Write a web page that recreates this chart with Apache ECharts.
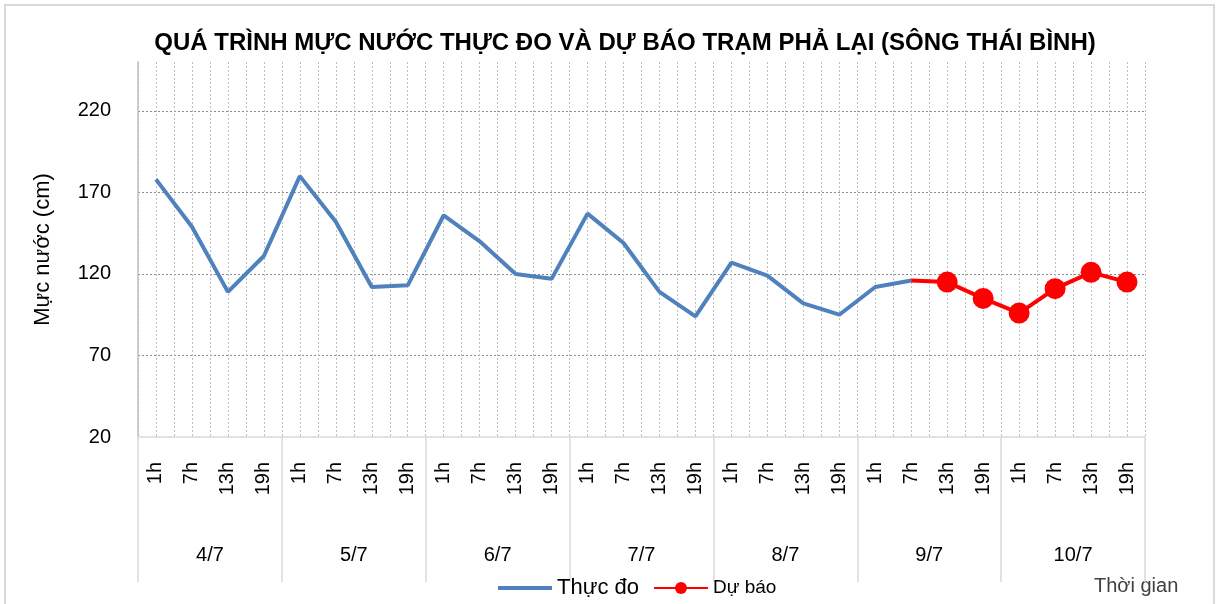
<!DOCTYPE html>
<html>
<head>
<meta charset="utf-8">
<script src="https://cdn.jsdelivr.net/npm/echarts@6/dist/echarts.min.js"></script>
<style>html,body{margin:0;padding:0;background:#fff;}#c{width:1218px;height:604px;}</style>
</head>
<body>
<div id="c"></div>
<script>
var days = ['4/7','5/7','6/7','7/7','8/7','9/7','10/7'];
var hours = ['1h','7h','13h','19h'];
var observed = [178,149,109,131, 180,152,112,113, 156,140,120,117, 157,139,109,94, 127,119,102,95, 112,116];
var forecastStartIndex = 21;
var forecast = [116,115,105,96,111,121,115];
var yTicks = [20,70,120,170,220];

var categories = [];
days.forEach(function(d){ hours.forEach(function(h){ categories.push(h); }); });
var halfCats = [];
for (var i = 0; i < categories.length * 2; i++) halfCats.push(String(i));

var obsData = categories.map(function(_, i){ return i < observed.length ? observed[i] : null; });
var fcData = categories.map(function(_, i){
  var k = i - forecastStartIndex;
  if (k < 0 || k >= forecast.length) return null;
  if (k === 0) return {value: forecast[k], symbol: 'none'};
  return forecast[k];
});

var FONT = 'Liberation Sans';
var chart = echarts.init(document.getElementById('c'), null, {renderer: 'canvas'});
chart.setOption({
  backgroundColor: '#fff',
  animation: false,
  textStyle: {fontFamily: FONT},
  title: {
    text: 'QUÁ TRÌNH MỰC NƯỚC THỰC ĐO VÀ DỰ BÁO TRẠM PHẢ LẠI (SÔNG THÁI BÌNH)',
    left: 620, top: 26, textAlign: 'center',
    textStyle: {fontFamily: FONT, fontWeight: 'bold', fontSize: 24, color: '#000'}
  },
  grid: {left: 138, right: 73, top: 62, bottom: 167, containLabel: false},
  legend: {
    left: 493, top: 572,
    itemWidth: 54, itemHeight: 15, itemGap: 14,
    textStyle: {fontFamily: FONT, fontSize: 19, color: '#000'},
    data: [
      {name: 'Thực đo', icon: 'path://M0,0 L54,0 L54,4 L0,4 Z', textStyle: {fontSize: 22}},
      {name: 'Dự báo', textStyle: {fontSize: 19}}
    ]
  },
  graphic: [
    {type: 'rect', shape: {x: 5, y: 5, width: 1209, height: 610}, style: {fill: null, stroke: '#d9d9d9', lineWidth: 2}, silent: true},
    {type: 'text', left: 1094, top: 576, style: {text: 'Thời gian', font: '20px "Liberation Sans"', fill: '#404040'}}
  ],
  xAxis: [
    {
      type: 'category', data: categories, boundaryGap: true, position: 'bottom',
      axisLine: {show: true, lineStyle: {color: '#d9d9d9', width: 1.5}},
      axisTick: {show: false},
      axisLabel: {interval: 0, rotate: 90, margin: 25, fontSize: 20, color: '#000', fontFamily: FONT},
      splitLine: {show: false}
    },
    {
      type: 'category', data: days, boundaryGap: true, position: 'bottom', offset: 0,
      axisLine: {show: false},
      axisTick: {show: true, interval: 0, length: 145, lineStyle: {color: '#d9d9d9', width: 1.5}},
      axisLabel: {interval: 0, margin: 108, fontSize: 20, color: '#000', fontFamily: FONT},
      splitLine: {show: false}
    },
    {
      type: 'category', data: halfCats, boundaryGap: true, position: 'top',
      axisLine: {show: false}, axisTick: {show: false}, axisLabel: {show: false},
      splitLine: {show: true, interval: 0, lineStyle: {color: '#bfbfbf', type: [2, 2], width: 1}}
    }
  ],
  yAxis: {
    type: 'value', min: 20, max: 250, interval: 50,
    name: 'Mực nước (cm)', nameLocation: 'middle', nameRotate: 90, nameGap: 84,
    nameTextStyle: {fontFamily: FONT, fontSize: 22, color: '#000'},
    axisLine: {show: true, lineStyle: {color: '#bfbfbf', width: 1.5}},
    axisTick: {show: false},
    axisLabel: {
      margin: 27, fontSize: 20, color: '#000', fontFamily: FONT, showMaxLabel: false,
      formatter: function(v){ return yTicks.indexOf(v) >= 0 ? String(v) : ''; }
    },
    splitLine: {show: true, showMinLine: false, showMaxLine: false, lineStyle: {color: '#8c8c8c', type: [2, 2], width: 1}}
  },
  series: [
    {
      name: 'Thực đo', type: 'line', xAxisIndex: 0, data: obsData,
      symbol: 'none', connectNulls: false,
      lineStyle: {color: '#4F81BD', width: 4}, itemStyle: {color: '#4F81BD'}, z: 3
    },
    {
      name: 'Dự báo', type: 'line', xAxisIndex: 0, data: fcData,
      symbol: 'circle', symbolSize: 21, connectNulls: false,
      lineStyle: {color: '#FF0000', width: 4}, itemStyle: {color: '#FF0000'}, z: 4
    }
  ]
});
</script>
</body>
</html>
